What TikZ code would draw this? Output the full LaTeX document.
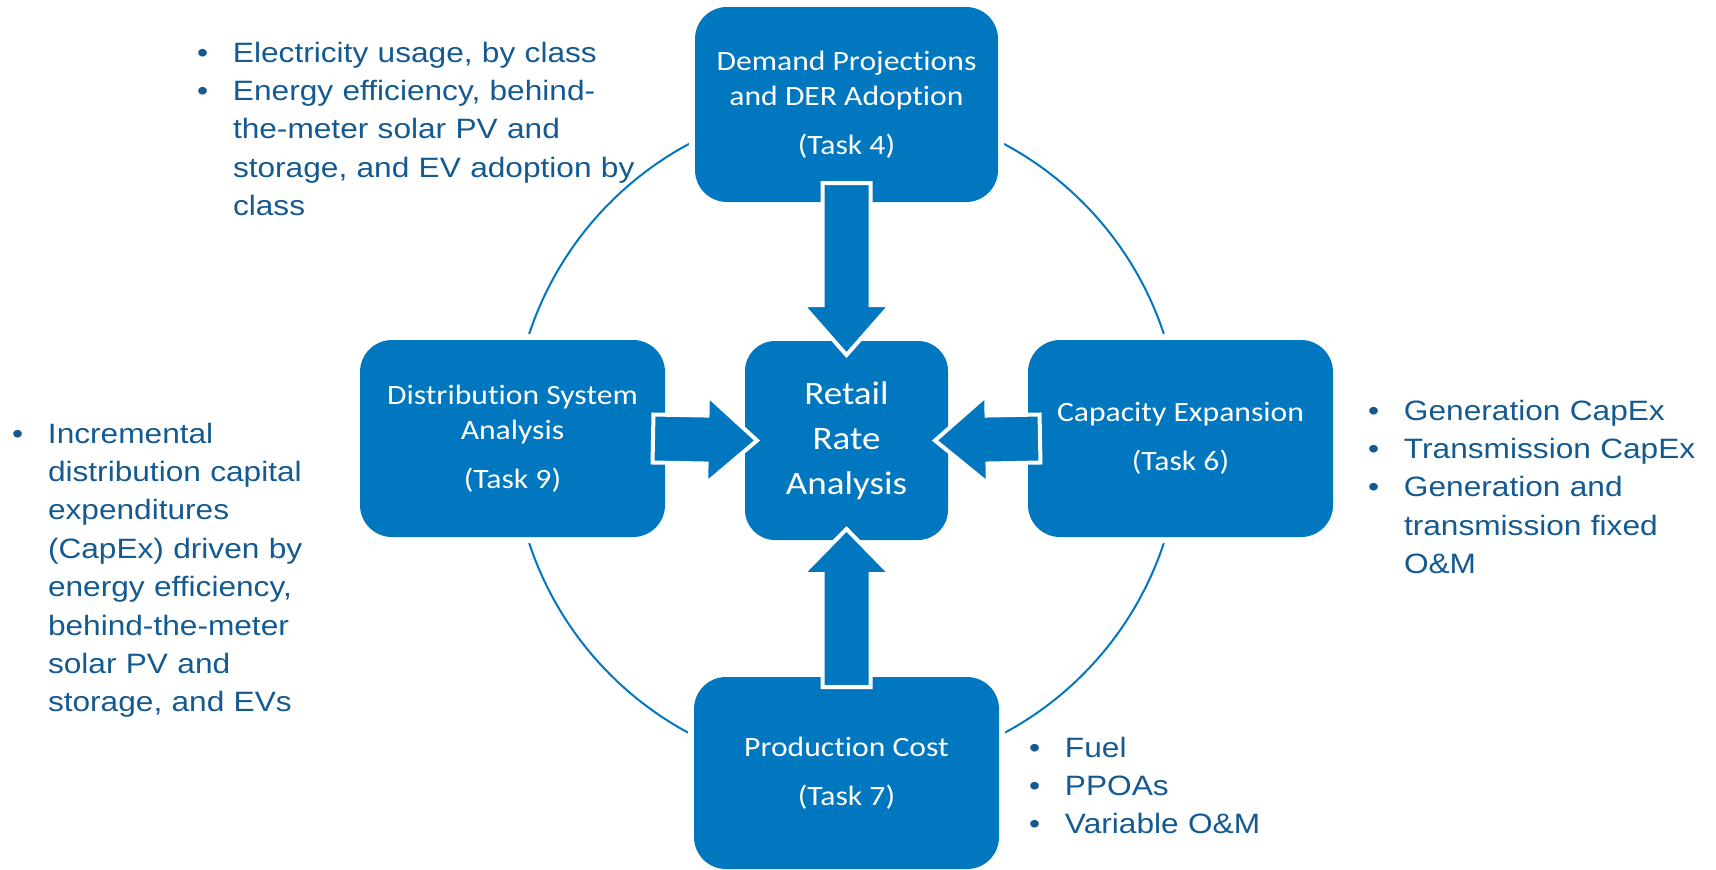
\documentclass[tikz,border=0pt]{standalone}
\usepackage{fontspec}
\setmainfont{Liberation Sans}[FakeStretch=1.13]
\newfontfamily\boxfont{Carlito}[FakeStretch=1.13, Ligatures=NoCommon]
\usetikzlibrary{calc}
\definecolor{boxblue}{RGB}{0,119,190}
\definecolor{txtblue}{RGB}{20,90,145}
\newcommand\itmA[1]{\noindent\hangindent=18pt\hangafter=1\makebox[18pt][l]{\textbullet}#1}
\newcommand\itm[1]{\par\itmA{#1}}
\newcommand\blockarrow[3]{%
  \path[barrow] let \p1=#1, \p2=#2,
    \n1={veclen(\x2-\x1,\y2-\y1)}, \n2={atan2(\y2-\y1,\x2-\x1)} in
    [shift={(\p1)}, rotate=\n2]
    (0pt,12pt) -- ({\n1*1pt-#3},12pt) -- ({\n1*1pt-#3},22pt) -- ({\n1*1pt},0pt)
    -- ({\n1*1pt-#3},-22pt) -- ({\n1*1pt-#3},-12pt) -- (0pt,-12pt) -- cycle;}
\tikzset{
  box/.style={rectangle, rounded corners=16pt, fill=boxblue,
    preaction={draw=white, line width=6pt}, inner sep=0pt, outer sep=0pt,
    text=white, align=center, font=\boxfont\fontsize{14pt}{17.5pt}\selectfont},
  barrow/.style={fill=boxblue, draw=white, line width=2pt, line join=miter},
  blist/.style={anchor=base west, inner sep=0pt, outer sep=0pt, text=txtblue,
    text width=#1, font=\fontsize{14pt}{19.2pt}\selectfont},
  ringstyle/.style={circle, draw=boxblue, line width=1pt, inner sep=0pt, minimum size=334pt}
}
\begin{document}
\begin{tikzpicture}[x=0.5pt,y=-0.5pt]
\useasboundingbox (0,0) rectangle (1716,869);
\node[ringstyle] (ring) at (846.5,438.5) {};
\node[box, minimum width=151.5pt, minimum height=97.5pt] (demand) at (846.5,104.5)
  {Demand Projections\\and DER Adoption\\[7pt](Task 4)};
\node[box, minimum width=101.5pt, minimum height=99.5pt, rounded corners=15pt,
  font=\boxfont\fontsize{16.4pt}{22.5pt}\selectfont] (retail) at (846.5,440.5)
  {Retail\\Rate\\Analysis};
\node[box, minimum width=152.5pt, minimum height=98.5pt] (dist) at (512.5,438.5)
  {Distribution System\\Analysis\\[7pt](Task 9)};
\node[box, minimum width=152.5pt, minimum height=98.5pt] (cap) at (1180.5,438.5)
  {Capacity Expansion\\[7pt](Task 6)};
\node[box, minimum width=152.5pt, minimum height=96pt] (prod) at (846.5,773)
  {Production Cost\\[7pt](Task 7)};
\blockarrow{($(demand.south)+(0,-19)$)}{($(retail.north)+(0,14)$)}{25pt}
\blockarrow{($(prod.north)+(0,10)$)}{($(retail.south)+(0,-11)$)}{22.5pt}
\blockarrow{($(dist.east)+(-12,0)$)}{($(retail.west)+(12,0)$)}{25pt}
\blockarrow{($(cap.west)+(12,0)$)}{($(retail.east)+(-13,0)$)}{26pt}
\node[blist=260pt] (toplist) at (197,62)
  {\itmA{Electricity usage, by class}\itm{Energy efficiency, behind-\newline the-meter solar PV and\newline storage, and EV adoption by\newline class}\par};
\node[blist=175pt] (leftlist) at (12,443)
  {\itmA{Incremental\newline distribution capital\newline expenditures\newline (CapEx) driven by\newline energy efficiency,\newline behind-the-meter\newline solar PV and\newline storage, and EVs}\par};
\node[blist=170pt] (rightlist) at (1368,420)
  {\itmA{Generation CapEx}\itm{Transmission CapEx}\itm{Generation and\newline transmission fixed\newline O\&M}\par};
\node[blist=150pt] (botlist) at (1029,757)
  {\itmA{Fuel}\itm{PPOAs}\itm{Variable O\&M}\par};
\end{tikzpicture}
\end{document}
